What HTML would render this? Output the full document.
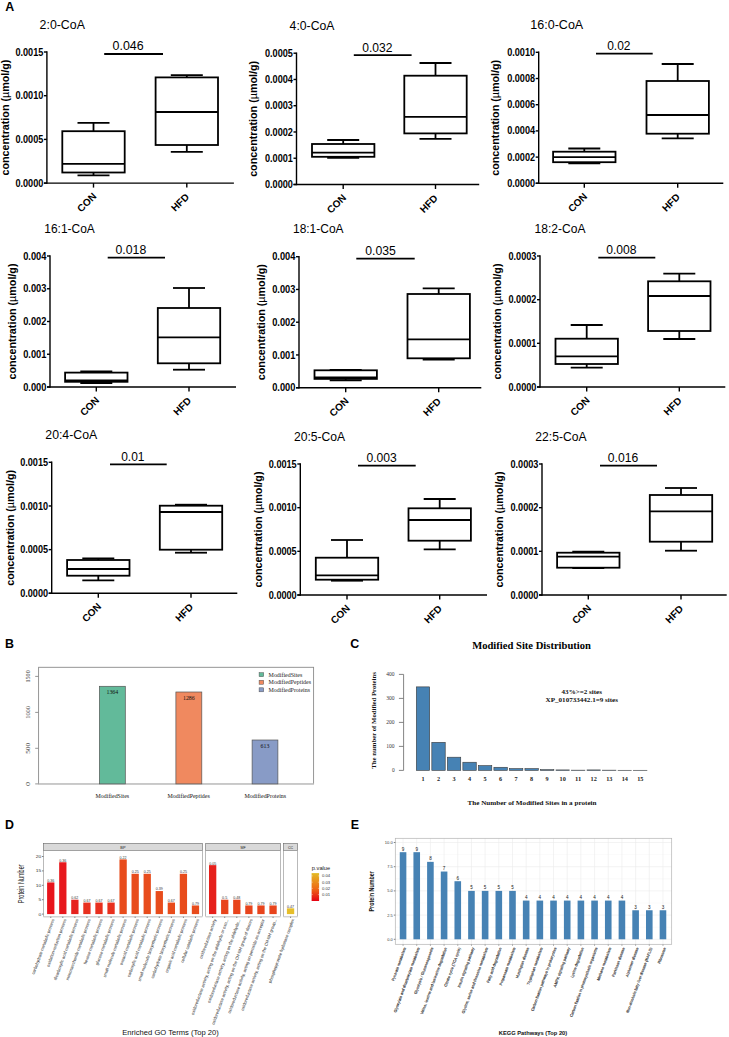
<!DOCTYPE html>
<html><head><meta charset="utf-8"><style>
html,body{margin:0;padding:0;background:#fff;overflow:hidden;}
svg{display:block;font-family:"Liberation Sans",sans-serif;}
</style></head><body>
<svg width="729" height="1037" viewBox="0 0 729 1037">
<rect width="729" height="1037" fill="#fff"/>
<text x="5.20" y="11.30" font-size="12.4" font-weight="bold">A</text>
<text x="5.00" y="647.90" font-size="12.4" font-weight="bold">B</text>
<text x="350.20" y="648.00" font-size="12.4" font-weight="bold">C</text>
<text x="5.00" y="829.40" font-size="12.4" font-weight="bold">D</text>
<text x="350.70" y="829.00" font-size="12.4" font-weight="bold">E</text>
<text x="39.60" y="28.60" font-size="13" textLength="45.30" lengthAdjust="spacingAndGlyphs">2:0-CoA</text>
<line x1="46.90" y1="51.30" x2="46.90" y2="183.80" stroke="#000" stroke-width="1.4" />
<line x1="43.90" y1="183.10" x2="233.90" y2="183.10" stroke="#000" stroke-width="1.4" />
<line x1="43.90" y1="183.10" x2="46.90" y2="183.10" stroke="#000" stroke-width="1.4" />
<text x="43.30" y="186.65" font-size="10" font-weight="bold" text-anchor="end" textLength="27.90" lengthAdjust="spacingAndGlyphs">0.0000</text>
<line x1="43.90" y1="139.40" x2="46.90" y2="139.40" stroke="#000" stroke-width="1.4" />
<text x="43.30" y="142.95" font-size="10" font-weight="bold" text-anchor="end" textLength="27.90" lengthAdjust="spacingAndGlyphs">0.0005</text>
<line x1="43.90" y1="95.70" x2="46.90" y2="95.70" stroke="#000" stroke-width="1.4" />
<text x="43.30" y="99.25" font-size="10" font-weight="bold" text-anchor="end" textLength="27.90" lengthAdjust="spacingAndGlyphs">0.0010</text>
<line x1="43.90" y1="52.00" x2="46.90" y2="52.00" stroke="#000" stroke-width="1.4" />
<text x="43.30" y="55.55" font-size="10" font-weight="bold" text-anchor="end" textLength="27.90" lengthAdjust="spacingAndGlyphs">0.0015</text>
<line x1="93.50" y1="183.10" x2="93.50" y2="187.60" stroke="#000" stroke-width="1.4" />
<text transform="translate(89.20,204.80) rotate(-45)" font-size="10" font-weight="bold" text-anchor="middle">CON</text>
<line x1="186.80" y1="183.10" x2="186.80" y2="187.60" stroke="#000" stroke-width="1.4" />
<text transform="translate(182.50,204.80) rotate(-45)" font-size="10" font-weight="bold" text-anchor="middle">HFD</text>
<line x1="93.50" y1="122.80" x2="93.50" y2="131.20" stroke="#000" stroke-width="1.8" />
<line x1="93.50" y1="172.50" x2="93.50" y2="175.40" stroke="#000" stroke-width="1.8" />
<line x1="77.50" y1="122.80" x2="109.50" y2="122.80" stroke="#000" stroke-width="1.8" />
<line x1="77.50" y1="175.40" x2="109.50" y2="175.40" stroke="#000" stroke-width="1.8" />
<rect x="62.30" y="131.20" width="62.40" height="41.30" fill="none" stroke="#000" stroke-width="1.8" />
<line x1="62.30" y1="163.80" x2="124.70" y2="163.80" stroke="#000" stroke-width="1.8" />
<line x1="186.80" y1="75.10" x2="186.80" y2="77.40" stroke="#000" stroke-width="1.8" />
<line x1="186.80" y1="145.00" x2="186.80" y2="151.90" stroke="#000" stroke-width="1.8" />
<line x1="170.80" y1="75.10" x2="202.80" y2="75.10" stroke="#000" stroke-width="1.8" />
<line x1="170.80" y1="151.90" x2="202.80" y2="151.90" stroke="#000" stroke-width="1.8" />
<rect x="155.60" y="77.40" width="62.40" height="67.60" fill="none" stroke="#000" stroke-width="1.8" />
<line x1="155.60" y1="112.00" x2="218.00" y2="112.00" stroke="#000" stroke-width="1.8" />
<line x1="104.20" y1="54.00" x2="163.00" y2="54.00" stroke="#000" stroke-width="1.8" />
<text x="112.60" y="50.20" font-size="12" textLength="31.10" lengthAdjust="spacingAndGlyphs">0.046</text>
<text transform="translate(9.00,117.55) rotate(-90)" font-size="10.8" font-weight="bold" text-anchor="middle" textLength="116" lengthAdjust="spacingAndGlyphs">concentration (<tspan font-weight="normal">µ</tspan>mol/g)</text>
<text x="289.60" y="30.20" font-size="13" textLength="44.80" lengthAdjust="spacingAndGlyphs">4:0-CoA</text>
<line x1="296.50" y1="52.50" x2="296.50" y2="185.20" stroke="#000" stroke-width="1.4" />
<line x1="293.50" y1="184.50" x2="479.20" y2="184.50" stroke="#000" stroke-width="1.4" />
<line x1="293.50" y1="184.50" x2="296.50" y2="184.50" stroke="#000" stroke-width="1.4" />
<text x="292.90" y="188.05" font-size="10" font-weight="bold" text-anchor="end" textLength="27.90" lengthAdjust="spacingAndGlyphs">0.0000</text>
<line x1="293.50" y1="158.24" x2="296.50" y2="158.24" stroke="#000" stroke-width="1.4" />
<text x="292.90" y="161.79" font-size="10" font-weight="bold" text-anchor="end" textLength="27.90" lengthAdjust="spacingAndGlyphs">0.0001</text>
<line x1="293.50" y1="131.98" x2="296.50" y2="131.98" stroke="#000" stroke-width="1.4" />
<text x="292.90" y="135.53" font-size="10" font-weight="bold" text-anchor="end" textLength="27.90" lengthAdjust="spacingAndGlyphs">0.0002</text>
<line x1="293.50" y1="105.72" x2="296.50" y2="105.72" stroke="#000" stroke-width="1.4" />
<text x="292.90" y="109.27" font-size="10" font-weight="bold" text-anchor="end" textLength="27.90" lengthAdjust="spacingAndGlyphs">0.0003</text>
<line x1="293.50" y1="79.46" x2="296.50" y2="79.46" stroke="#000" stroke-width="1.4" />
<text x="292.90" y="83.01" font-size="10" font-weight="bold" text-anchor="end" textLength="27.90" lengthAdjust="spacingAndGlyphs">0.0004</text>
<line x1="293.50" y1="53.20" x2="296.50" y2="53.20" stroke="#000" stroke-width="1.4" />
<text x="292.90" y="56.75" font-size="10" font-weight="bold" text-anchor="end" textLength="27.90" lengthAdjust="spacingAndGlyphs">0.0005</text>
<line x1="343.20" y1="184.50" x2="343.20" y2="189.00" stroke="#000" stroke-width="1.4" />
<text transform="translate(338.90,206.20) rotate(-45)" font-size="10" font-weight="bold" text-anchor="middle">CON</text>
<line x1="435.50" y1="184.50" x2="435.50" y2="189.00" stroke="#000" stroke-width="1.4" />
<text transform="translate(431.20,206.20) rotate(-45)" font-size="10" font-weight="bold" text-anchor="middle">HFD</text>
<line x1="343.20" y1="140.00" x2="343.20" y2="144.00" stroke="#000" stroke-width="1.8" />
<line x1="343.20" y1="156.80" x2="343.20" y2="157.90" stroke="#000" stroke-width="1.8" />
<line x1="327.20" y1="140.00" x2="359.20" y2="140.00" stroke="#000" stroke-width="1.8" />
<line x1="327.20" y1="157.90" x2="359.20" y2="157.90" stroke="#000" stroke-width="1.8" />
<rect x="312.00" y="144.00" width="62.40" height="12.80" fill="none" stroke="#000" stroke-width="1.8" />
<line x1="312.00" y1="152.70" x2="374.40" y2="152.70" stroke="#000" stroke-width="1.8" />
<line x1="435.50" y1="63.00" x2="435.50" y2="75.70" stroke="#000" stroke-width="1.8" />
<line x1="435.50" y1="133.40" x2="435.50" y2="138.80" stroke="#000" stroke-width="1.8" />
<line x1="419.50" y1="63.00" x2="451.50" y2="63.00" stroke="#000" stroke-width="1.8" />
<line x1="419.50" y1="138.80" x2="451.50" y2="138.80" stroke="#000" stroke-width="1.8" />
<rect x="404.30" y="75.70" width="62.40" height="57.70" fill="none" stroke="#000" stroke-width="1.8" />
<line x1="404.30" y1="116.80" x2="466.70" y2="116.80" stroke="#000" stroke-width="1.8" />
<line x1="353.80" y1="55.20" x2="411.60" y2="55.20" stroke="#000" stroke-width="1.8" />
<text x="362.20" y="51.50" font-size="12" textLength="30.20" lengthAdjust="spacingAndGlyphs">0.032</text>
<text transform="translate(257.40,118.85) rotate(-90)" font-size="10.8" font-weight="bold" text-anchor="middle" textLength="116" lengthAdjust="spacingAndGlyphs">concentration (<tspan font-weight="normal">µ</tspan>mol/g)</text>
<text x="530.30" y="29.40" font-size="13" textLength="52.90" lengthAdjust="spacingAndGlyphs">16:0-CoA</text>
<line x1="538.70" y1="51.60" x2="538.70" y2="184.00" stroke="#000" stroke-width="1.4" />
<line x1="535.70" y1="183.30" x2="723.30" y2="183.30" stroke="#000" stroke-width="1.4" />
<line x1="535.70" y1="183.30" x2="538.70" y2="183.30" stroke="#000" stroke-width="1.4" />
<text x="535.10" y="186.85" font-size="10" font-weight="bold" text-anchor="end" textLength="27.90" lengthAdjust="spacingAndGlyphs">0.0000</text>
<line x1="535.70" y1="157.10" x2="538.70" y2="157.10" stroke="#000" stroke-width="1.4" />
<text x="535.10" y="160.65" font-size="10" font-weight="bold" text-anchor="end" textLength="27.90" lengthAdjust="spacingAndGlyphs">0.0002</text>
<line x1="535.70" y1="130.90" x2="538.70" y2="130.90" stroke="#000" stroke-width="1.4" />
<text x="535.10" y="134.45" font-size="10" font-weight="bold" text-anchor="end" textLength="27.90" lengthAdjust="spacingAndGlyphs">0.0004</text>
<line x1="535.70" y1="104.70" x2="538.70" y2="104.70" stroke="#000" stroke-width="1.4" />
<text x="535.10" y="108.25" font-size="10" font-weight="bold" text-anchor="end" textLength="27.90" lengthAdjust="spacingAndGlyphs">0.0006</text>
<line x1="535.70" y1="78.50" x2="538.70" y2="78.50" stroke="#000" stroke-width="1.4" />
<text x="535.10" y="82.05" font-size="10" font-weight="bold" text-anchor="end" textLength="27.90" lengthAdjust="spacingAndGlyphs">0.0008</text>
<line x1="535.70" y1="52.30" x2="538.70" y2="52.30" stroke="#000" stroke-width="1.4" />
<text x="535.10" y="55.85" font-size="10" font-weight="bold" text-anchor="end" textLength="27.90" lengthAdjust="spacingAndGlyphs">0.0010</text>
<line x1="584.30" y1="183.30" x2="584.30" y2="187.80" stroke="#000" stroke-width="1.4" />
<text transform="translate(580.00,205.00) rotate(-45)" font-size="10" font-weight="bold" text-anchor="middle">CON</text>
<line x1="677.70" y1="183.30" x2="677.70" y2="187.80" stroke="#000" stroke-width="1.4" />
<text transform="translate(673.40,205.00) rotate(-45)" font-size="10" font-weight="bold" text-anchor="middle">HFD</text>
<line x1="584.30" y1="148.50" x2="584.30" y2="151.70" stroke="#000" stroke-width="1.8" />
<line x1="584.30" y1="162.20" x2="584.30" y2="163.40" stroke="#000" stroke-width="1.8" />
<line x1="568.30" y1="148.50" x2="600.30" y2="148.50" stroke="#000" stroke-width="1.8" />
<line x1="568.30" y1="163.40" x2="600.30" y2="163.40" stroke="#000" stroke-width="1.8" />
<rect x="553.10" y="151.70" width="62.40" height="10.50" fill="none" stroke="#000" stroke-width="1.8" />
<line x1="553.10" y1="157.20" x2="615.50" y2="157.20" stroke="#000" stroke-width="1.8" />
<line x1="677.70" y1="64.00" x2="677.70" y2="81.00" stroke="#000" stroke-width="1.8" />
<line x1="677.70" y1="133.70" x2="677.70" y2="138.30" stroke="#000" stroke-width="1.8" />
<line x1="661.70" y1="64.00" x2="693.70" y2="64.00" stroke="#000" stroke-width="1.8" />
<line x1="661.70" y1="138.30" x2="693.70" y2="138.30" stroke="#000" stroke-width="1.8" />
<rect x="646.50" y="81.00" width="62.40" height="52.70" fill="none" stroke="#000" stroke-width="1.8" />
<line x1="646.50" y1="115.00" x2="708.90" y2="115.00" stroke="#000" stroke-width="1.8" />
<line x1="596.00" y1="53.70" x2="652.70" y2="53.70" stroke="#000" stroke-width="1.8" />
<text x="607.20" y="50.00" font-size="12" textLength="23.30" lengthAdjust="spacingAndGlyphs">0.02</text>
<text transform="translate(499.10,117.80) rotate(-90)" font-size="10.8" font-weight="bold" text-anchor="middle" textLength="116" lengthAdjust="spacingAndGlyphs">concentration (<tspan font-weight="normal">µ</tspan>mol/g)</text>
<text x="44.30" y="232.80" font-size="13" textLength="50.50" lengthAdjust="spacingAndGlyphs">16:1-CoA</text>
<line x1="50.00" y1="255.30" x2="50.00" y2="387.70" stroke="#000" stroke-width="1.4" />
<line x1="47.00" y1="387.00" x2="236.00" y2="387.00" stroke="#000" stroke-width="1.4" />
<line x1="47.00" y1="387.00" x2="50.00" y2="387.00" stroke="#000" stroke-width="1.4" />
<text x="46.40" y="390.55" font-size="10" font-weight="bold" text-anchor="end" textLength="23.20" lengthAdjust="spacingAndGlyphs">0.000</text>
<line x1="47.00" y1="354.25" x2="50.00" y2="354.25" stroke="#000" stroke-width="1.4" />
<text x="46.40" y="357.80" font-size="10" font-weight="bold" text-anchor="end" textLength="23.20" lengthAdjust="spacingAndGlyphs">0.001</text>
<line x1="47.00" y1="321.50" x2="50.00" y2="321.50" stroke="#000" stroke-width="1.4" />
<text x="46.40" y="325.05" font-size="10" font-weight="bold" text-anchor="end" textLength="23.20" lengthAdjust="spacingAndGlyphs">0.002</text>
<line x1="47.00" y1="288.75" x2="50.00" y2="288.75" stroke="#000" stroke-width="1.4" />
<text x="46.40" y="292.30" font-size="10" font-weight="bold" text-anchor="end" textLength="23.20" lengthAdjust="spacingAndGlyphs">0.003</text>
<line x1="47.00" y1="256.00" x2="50.00" y2="256.00" stroke="#000" stroke-width="1.4" />
<text x="46.40" y="259.55" font-size="10" font-weight="bold" text-anchor="end" textLength="23.20" lengthAdjust="spacingAndGlyphs">0.004</text>
<line x1="96.30" y1="387.00" x2="96.30" y2="391.50" stroke="#000" stroke-width="1.4" />
<text transform="translate(92.00,408.70) rotate(-45)" font-size="10" font-weight="bold" text-anchor="middle">CON</text>
<line x1="189.00" y1="387.00" x2="189.00" y2="391.50" stroke="#000" stroke-width="1.4" />
<text transform="translate(184.70,408.70) rotate(-45)" font-size="10" font-weight="bold" text-anchor="middle">HFD</text>
<line x1="96.30" y1="371.30" x2="96.30" y2="372.60" stroke="#000" stroke-width="1.8" />
<line x1="96.30" y1="381.80" x2="96.30" y2="383.00" stroke="#000" stroke-width="1.8" />
<line x1="80.30" y1="371.30" x2="112.30" y2="371.30" stroke="#000" stroke-width="1.8" />
<line x1="80.30" y1="383.00" x2="112.30" y2="383.00" stroke="#000" stroke-width="1.8" />
<rect x="65.10" y="372.60" width="62.40" height="9.20" fill="none" stroke="#000" stroke-width="1.8" />
<line x1="65.10" y1="380.30" x2="127.50" y2="380.30" stroke="#000" stroke-width="1.8" />
<line x1="189.00" y1="288.00" x2="189.00" y2="308.00" stroke="#000" stroke-width="1.8" />
<line x1="189.00" y1="363.30" x2="189.00" y2="369.70" stroke="#000" stroke-width="1.8" />
<line x1="173.00" y1="288.00" x2="205.00" y2="288.00" stroke="#000" stroke-width="1.8" />
<line x1="173.00" y1="369.70" x2="205.00" y2="369.70" stroke="#000" stroke-width="1.8" />
<rect x="157.80" y="308.00" width="62.40" height="55.30" fill="none" stroke="#000" stroke-width="1.8" />
<line x1="157.80" y1="337.30" x2="220.20" y2="337.30" stroke="#000" stroke-width="1.8" />
<line x1="107.70" y1="257.70" x2="165.00" y2="257.70" stroke="#000" stroke-width="1.8" />
<text x="115.50" y="254.00" font-size="12" textLength="30.70" lengthAdjust="spacingAndGlyphs">0.018</text>
<text transform="translate(15.80,321.50) rotate(-90)" font-size="10.8" font-weight="bold" text-anchor="middle" textLength="116" lengthAdjust="spacingAndGlyphs">concentration (<tspan font-weight="normal">µ</tspan>mol/g)</text>
<text x="293.00" y="233.40" font-size="13" textLength="50.50" lengthAdjust="spacingAndGlyphs">18:1-CoA</text>
<line x1="299.00" y1="256.00" x2="299.00" y2="388.40" stroke="#000" stroke-width="1.4" />
<line x1="296.00" y1="387.70" x2="481.30" y2="387.70" stroke="#000" stroke-width="1.4" />
<line x1="296.00" y1="387.70" x2="299.00" y2="387.70" stroke="#000" stroke-width="1.4" />
<text x="295.40" y="391.25" font-size="10" font-weight="bold" text-anchor="end" textLength="23.20" lengthAdjust="spacingAndGlyphs">0.000</text>
<line x1="296.00" y1="354.95" x2="299.00" y2="354.95" stroke="#000" stroke-width="1.4" />
<text x="295.40" y="358.50" font-size="10" font-weight="bold" text-anchor="end" textLength="23.20" lengthAdjust="spacingAndGlyphs">0.001</text>
<line x1="296.00" y1="322.20" x2="299.00" y2="322.20" stroke="#000" stroke-width="1.4" />
<text x="295.40" y="325.75" font-size="10" font-weight="bold" text-anchor="end" textLength="23.20" lengthAdjust="spacingAndGlyphs">0.002</text>
<line x1="296.00" y1="289.45" x2="299.00" y2="289.45" stroke="#000" stroke-width="1.4" />
<text x="295.40" y="293.00" font-size="10" font-weight="bold" text-anchor="end" textLength="23.20" lengthAdjust="spacingAndGlyphs">0.003</text>
<line x1="296.00" y1="256.70" x2="299.00" y2="256.70" stroke="#000" stroke-width="1.4" />
<text x="295.40" y="260.25" font-size="10" font-weight="bold" text-anchor="end" textLength="23.20" lengthAdjust="spacingAndGlyphs">0.004</text>
<line x1="345.70" y1="387.70" x2="345.70" y2="392.20" stroke="#000" stroke-width="1.4" />
<text transform="translate(341.40,409.40) rotate(-45)" font-size="10" font-weight="bold" text-anchor="middle">CON</text>
<line x1="438.70" y1="387.70" x2="438.70" y2="392.20" stroke="#000" stroke-width="1.4" />
<text transform="translate(434.40,409.40) rotate(-45)" font-size="10" font-weight="bold" text-anchor="middle">HFD</text>
<line x1="345.70" y1="370.00" x2="345.70" y2="370.30" stroke="#000" stroke-width="1.8" />
<line x1="345.70" y1="378.90" x2="345.70" y2="380.30" stroke="#000" stroke-width="1.8" />
<line x1="329.70" y1="370.00" x2="361.70" y2="370.00" stroke="#000" stroke-width="1.8" />
<line x1="329.70" y1="380.30" x2="361.70" y2="380.30" stroke="#000" stroke-width="1.8" />
<rect x="314.50" y="370.30" width="62.40" height="8.60" fill="none" stroke="#000" stroke-width="1.8" />
<line x1="314.50" y1="377.40" x2="376.90" y2="377.40" stroke="#000" stroke-width="1.8" />
<line x1="438.70" y1="288.30" x2="438.70" y2="294.00" stroke="#000" stroke-width="1.8" />
<line x1="438.70" y1="358.30" x2="438.70" y2="359.70" stroke="#000" stroke-width="1.8" />
<line x1="422.70" y1="288.30" x2="454.70" y2="288.30" stroke="#000" stroke-width="1.8" />
<line x1="422.70" y1="359.70" x2="454.70" y2="359.70" stroke="#000" stroke-width="1.8" />
<rect x="407.50" y="294.00" width="62.40" height="64.30" fill="none" stroke="#000" stroke-width="1.8" />
<line x1="407.50" y1="339.30" x2="469.90" y2="339.30" stroke="#000" stroke-width="1.8" />
<line x1="356.30" y1="258.70" x2="414.70" y2="258.70" stroke="#000" stroke-width="1.8" />
<text x="365.20" y="255.00" font-size="12" textLength="30.60" lengthAdjust="spacingAndGlyphs">0.035</text>
<text transform="translate(265.10,322.20) rotate(-90)" font-size="10.8" font-weight="bold" text-anchor="middle" textLength="116" lengthAdjust="spacingAndGlyphs">concentration (<tspan font-weight="normal">µ</tspan>mol/g)</text>
<text x="534.60" y="233.40" font-size="13" textLength="50.90" lengthAdjust="spacingAndGlyphs">18:2-CoA</text>
<line x1="540.00" y1="255.30" x2="540.00" y2="387.70" stroke="#000" stroke-width="1.4" />
<line x1="537.00" y1="387.00" x2="725.30" y2="387.00" stroke="#000" stroke-width="1.4" />
<line x1="537.00" y1="387.00" x2="540.00" y2="387.00" stroke="#000" stroke-width="1.4" />
<text x="536.40" y="390.55" font-size="10" font-weight="bold" text-anchor="end" textLength="27.90" lengthAdjust="spacingAndGlyphs">0.0000</text>
<line x1="537.00" y1="343.33" x2="540.00" y2="343.33" stroke="#000" stroke-width="1.4" />
<text x="536.40" y="346.88" font-size="10" font-weight="bold" text-anchor="end" textLength="27.90" lengthAdjust="spacingAndGlyphs">0.0001</text>
<line x1="537.00" y1="299.67" x2="540.00" y2="299.67" stroke="#000" stroke-width="1.4" />
<text x="536.40" y="303.22" font-size="10" font-weight="bold" text-anchor="end" textLength="27.90" lengthAdjust="spacingAndGlyphs">0.0002</text>
<line x1="537.00" y1="256.00" x2="540.00" y2="256.00" stroke="#000" stroke-width="1.4" />
<text x="536.40" y="259.55" font-size="10" font-weight="bold" text-anchor="end" textLength="27.90" lengthAdjust="spacingAndGlyphs">0.0003</text>
<line x1="586.70" y1="387.00" x2="586.70" y2="391.50" stroke="#000" stroke-width="1.4" />
<text transform="translate(582.40,408.70) rotate(-45)" font-size="10" font-weight="bold" text-anchor="middle">CON</text>
<line x1="679.30" y1="387.00" x2="679.30" y2="391.50" stroke="#000" stroke-width="1.4" />
<text transform="translate(675.00,408.70) rotate(-45)" font-size="10" font-weight="bold" text-anchor="middle">HFD</text>
<line x1="586.70" y1="325.00" x2="586.70" y2="338.70" stroke="#000" stroke-width="1.8" />
<line x1="586.70" y1="364.00" x2="586.70" y2="367.70" stroke="#000" stroke-width="1.8" />
<line x1="570.70" y1="325.00" x2="602.70" y2="325.00" stroke="#000" stroke-width="1.8" />
<line x1="570.70" y1="367.70" x2="602.70" y2="367.70" stroke="#000" stroke-width="1.8" />
<rect x="555.50" y="338.70" width="62.40" height="25.30" fill="none" stroke="#000" stroke-width="1.8" />
<line x1="555.50" y1="356.30" x2="617.90" y2="356.30" stroke="#000" stroke-width="1.8" />
<line x1="679.30" y1="273.70" x2="679.30" y2="281.30" stroke="#000" stroke-width="1.8" />
<line x1="679.30" y1="331.00" x2="679.30" y2="339.00" stroke="#000" stroke-width="1.8" />
<line x1="663.30" y1="273.70" x2="695.30" y2="273.70" stroke="#000" stroke-width="1.8" />
<line x1="663.30" y1="339.00" x2="695.30" y2="339.00" stroke="#000" stroke-width="1.8" />
<rect x="648.10" y="281.30" width="62.40" height="49.70" fill="none" stroke="#000" stroke-width="1.8" />
<line x1="648.10" y1="296.00" x2="710.50" y2="296.00" stroke="#000" stroke-width="1.8" />
<line x1="598.30" y1="257.70" x2="655.30" y2="257.70" stroke="#000" stroke-width="1.8" />
<text x="606.20" y="254.00" font-size="12" textLength="30.30" lengthAdjust="spacingAndGlyphs">0.008</text>
<text transform="translate(501.10,321.50) rotate(-90)" font-size="10.8" font-weight="bold" text-anchor="middle" textLength="116" lengthAdjust="spacingAndGlyphs">concentration (<tspan font-weight="normal">µ</tspan>mol/g)</text>
<text x="45.30" y="439.40" font-size="13" textLength="51.90" lengthAdjust="spacingAndGlyphs">20:4-CoA</text>
<line x1="51.70" y1="461.60" x2="51.70" y2="594.00" stroke="#000" stroke-width="1.4" />
<line x1="48.70" y1="593.30" x2="237.30" y2="593.30" stroke="#000" stroke-width="1.4" />
<line x1="48.70" y1="593.30" x2="51.70" y2="593.30" stroke="#000" stroke-width="1.4" />
<text x="48.10" y="596.85" font-size="10" font-weight="bold" text-anchor="end" textLength="27.90" lengthAdjust="spacingAndGlyphs">0.0000</text>
<line x1="48.70" y1="549.63" x2="51.70" y2="549.63" stroke="#000" stroke-width="1.4" />
<text x="48.10" y="553.18" font-size="10" font-weight="bold" text-anchor="end" textLength="27.90" lengthAdjust="spacingAndGlyphs">0.0005</text>
<line x1="48.70" y1="505.97" x2="51.70" y2="505.97" stroke="#000" stroke-width="1.4" />
<text x="48.10" y="509.52" font-size="10" font-weight="bold" text-anchor="end" textLength="27.90" lengthAdjust="spacingAndGlyphs">0.0010</text>
<line x1="48.70" y1="462.30" x2="51.70" y2="462.30" stroke="#000" stroke-width="1.4" />
<text x="48.10" y="465.85" font-size="10" font-weight="bold" text-anchor="end" textLength="27.90" lengthAdjust="spacingAndGlyphs">0.0015</text>
<line x1="98.30" y1="593.30" x2="98.30" y2="597.80" stroke="#000" stroke-width="1.4" />
<text transform="translate(94.00,615.00) rotate(-45)" font-size="10" font-weight="bold" text-anchor="middle">CON</text>
<line x1="191.00" y1="593.30" x2="191.00" y2="597.80" stroke="#000" stroke-width="1.4" />
<text transform="translate(186.70,615.00) rotate(-45)" font-size="10" font-weight="bold" text-anchor="middle">HFD</text>
<line x1="98.30" y1="558.30" x2="98.30" y2="560.00" stroke="#000" stroke-width="1.8" />
<line x1="98.30" y1="575.70" x2="98.30" y2="580.30" stroke="#000" stroke-width="1.8" />
<line x1="82.30" y1="558.30" x2="114.30" y2="558.30" stroke="#000" stroke-width="1.8" />
<line x1="82.30" y1="580.30" x2="114.30" y2="580.30" stroke="#000" stroke-width="1.8" />
<rect x="67.10" y="560.00" width="62.40" height="15.70" fill="none" stroke="#000" stroke-width="1.8" />
<line x1="67.10" y1="569.00" x2="129.50" y2="569.00" stroke="#000" stroke-width="1.8" />
<line x1="191.00" y1="504.70" x2="191.00" y2="505.70" stroke="#000" stroke-width="1.8" />
<line x1="191.00" y1="549.70" x2="191.00" y2="552.70" stroke="#000" stroke-width="1.8" />
<line x1="175.00" y1="504.70" x2="207.00" y2="504.70" stroke="#000" stroke-width="1.8" />
<line x1="175.00" y1="552.70" x2="207.00" y2="552.70" stroke="#000" stroke-width="1.8" />
<rect x="159.80" y="505.70" width="62.40" height="44.00" fill="none" stroke="#000" stroke-width="1.8" />
<line x1="159.80" y1="512.00" x2="222.20" y2="512.00" stroke="#000" stroke-width="1.8" />
<line x1="110.00" y1="464.30" x2="166.70" y2="464.30" stroke="#000" stroke-width="1.8" />
<text x="121.20" y="461.00" font-size="12" textLength="23.30" lengthAdjust="spacingAndGlyphs">0.01</text>
<text transform="translate(13.80,527.80) rotate(-90)" font-size="10.8" font-weight="bold" text-anchor="middle" textLength="116" lengthAdjust="spacingAndGlyphs">concentration (<tspan font-weight="normal">µ</tspan>mol/g)</text>
<text x="294.00" y="441.10" font-size="13" textLength="51.20" lengthAdjust="spacingAndGlyphs">20:5-CoA</text>
<line x1="300.30" y1="463.30" x2="300.30" y2="595.70" stroke="#000" stroke-width="1.4" />
<line x1="297.30" y1="595.00" x2="487.00" y2="595.00" stroke="#000" stroke-width="1.4" />
<line x1="297.30" y1="595.00" x2="300.30" y2="595.00" stroke="#000" stroke-width="1.4" />
<text x="296.70" y="598.55" font-size="10" font-weight="bold" text-anchor="end" textLength="27.90" lengthAdjust="spacingAndGlyphs">0.0000</text>
<line x1="297.30" y1="551.33" x2="300.30" y2="551.33" stroke="#000" stroke-width="1.4" />
<text x="296.70" y="554.88" font-size="10" font-weight="bold" text-anchor="end" textLength="27.90" lengthAdjust="spacingAndGlyphs">0.0005</text>
<line x1="297.30" y1="507.67" x2="300.30" y2="507.67" stroke="#000" stroke-width="1.4" />
<text x="296.70" y="511.22" font-size="10" font-weight="bold" text-anchor="end" textLength="27.90" lengthAdjust="spacingAndGlyphs">0.0010</text>
<line x1="297.30" y1="464.00" x2="300.30" y2="464.00" stroke="#000" stroke-width="1.4" />
<text x="296.70" y="467.55" font-size="10" font-weight="bold" text-anchor="end" textLength="27.90" lengthAdjust="spacingAndGlyphs">0.0015</text>
<line x1="347.00" y1="595.00" x2="347.00" y2="599.50" stroke="#000" stroke-width="1.4" />
<text transform="translate(342.70,616.70) rotate(-45)" font-size="10" font-weight="bold" text-anchor="middle">CON</text>
<line x1="439.70" y1="595.00" x2="439.70" y2="599.50" stroke="#000" stroke-width="1.4" />
<text transform="translate(435.40,616.70) rotate(-45)" font-size="10" font-weight="bold" text-anchor="middle">HFD</text>
<line x1="347.00" y1="540.00" x2="347.00" y2="557.70" stroke="#000" stroke-width="1.8" />
<line x1="347.00" y1="579.70" x2="347.00" y2="580.70" stroke="#000" stroke-width="1.8" />
<line x1="331.00" y1="540.00" x2="363.00" y2="540.00" stroke="#000" stroke-width="1.8" />
<line x1="331.00" y1="580.70" x2="363.00" y2="580.70" stroke="#000" stroke-width="1.8" />
<rect x="315.80" y="557.70" width="62.40" height="22.00" fill="none" stroke="#000" stroke-width="1.8" />
<line x1="315.80" y1="575.30" x2="378.20" y2="575.30" stroke="#000" stroke-width="1.8" />
<line x1="439.70" y1="499.00" x2="439.70" y2="508.30" stroke="#000" stroke-width="1.8" />
<line x1="439.70" y1="540.70" x2="439.70" y2="549.30" stroke="#000" stroke-width="1.8" />
<line x1="423.70" y1="499.00" x2="455.70" y2="499.00" stroke="#000" stroke-width="1.8" />
<line x1="423.70" y1="549.30" x2="455.70" y2="549.30" stroke="#000" stroke-width="1.8" />
<rect x="408.50" y="508.30" width="62.40" height="32.40" fill="none" stroke="#000" stroke-width="1.8" />
<line x1="408.50" y1="520.00" x2="470.90" y2="520.00" stroke="#000" stroke-width="1.8" />
<line x1="358.00" y1="465.70" x2="415.70" y2="465.70" stroke="#000" stroke-width="1.8" />
<text x="366.50" y="462.30" font-size="12" textLength="30.30" lengthAdjust="spacingAndGlyphs">0.003</text>
<text transform="translate(261.50,529.50) rotate(-90)" font-size="10.8" font-weight="bold" text-anchor="middle" textLength="116" lengthAdjust="spacingAndGlyphs">concentration (<tspan font-weight="normal">µ</tspan>mol/g)</text>
<text x="535.30" y="441.10" font-size="13" textLength="51.20" lengthAdjust="spacingAndGlyphs">22:5-CoA</text>
<line x1="542.00" y1="463.30" x2="542.00" y2="595.70" stroke="#000" stroke-width="1.4" />
<line x1="539.00" y1="595.00" x2="726.70" y2="595.00" stroke="#000" stroke-width="1.4" />
<line x1="539.00" y1="595.00" x2="542.00" y2="595.00" stroke="#000" stroke-width="1.4" />
<text x="538.40" y="598.55" font-size="10" font-weight="bold" text-anchor="end" textLength="27.90" lengthAdjust="spacingAndGlyphs">0.0000</text>
<line x1="539.00" y1="551.33" x2="542.00" y2="551.33" stroke="#000" stroke-width="1.4" />
<text x="538.40" y="554.88" font-size="10" font-weight="bold" text-anchor="end" textLength="27.90" lengthAdjust="spacingAndGlyphs">0.0001</text>
<line x1="539.00" y1="507.67" x2="542.00" y2="507.67" stroke="#000" stroke-width="1.4" />
<text x="538.40" y="511.22" font-size="10" font-weight="bold" text-anchor="end" textLength="27.90" lengthAdjust="spacingAndGlyphs">0.0002</text>
<line x1="539.00" y1="464.00" x2="542.00" y2="464.00" stroke="#000" stroke-width="1.4" />
<text x="538.40" y="467.55" font-size="10" font-weight="bold" text-anchor="end" textLength="27.90" lengthAdjust="spacingAndGlyphs">0.0003</text>
<line x1="588.30" y1="595.00" x2="588.30" y2="599.50" stroke="#000" stroke-width="1.4" />
<text transform="translate(584.00,616.70) rotate(-45)" font-size="10" font-weight="bold" text-anchor="middle">CON</text>
<line x1="681.00" y1="595.00" x2="681.00" y2="599.50" stroke="#000" stroke-width="1.4" />
<text transform="translate(676.70,616.70) rotate(-45)" font-size="10" font-weight="bold" text-anchor="middle">HFD</text>
<line x1="588.30" y1="551.70" x2="588.30" y2="552.70" stroke="#000" stroke-width="1.8" />
<line x1="588.30" y1="567.70" x2="588.30" y2="568.00" stroke="#000" stroke-width="1.8" />
<line x1="572.30" y1="551.70" x2="604.30" y2="551.70" stroke="#000" stroke-width="1.8" />
<line x1="572.30" y1="568.00" x2="604.30" y2="568.00" stroke="#000" stroke-width="1.8" />
<rect x="557.10" y="552.70" width="62.40" height="15.00" fill="none" stroke="#000" stroke-width="1.8" />
<line x1="557.10" y1="556.70" x2="619.50" y2="556.70" stroke="#000" stroke-width="1.8" />
<line x1="681.00" y1="488.00" x2="681.00" y2="495.00" stroke="#000" stroke-width="1.8" />
<line x1="681.00" y1="541.70" x2="681.00" y2="550.70" stroke="#000" stroke-width="1.8" />
<line x1="665.00" y1="488.00" x2="697.00" y2="488.00" stroke="#000" stroke-width="1.8" />
<line x1="665.00" y1="550.70" x2="697.00" y2="550.70" stroke="#000" stroke-width="1.8" />
<rect x="649.80" y="495.00" width="62.40" height="46.70" fill="none" stroke="#000" stroke-width="1.8" />
<line x1="649.80" y1="511.30" x2="712.20" y2="511.30" stroke="#000" stroke-width="1.8" />
<line x1="600.00" y1="465.70" x2="657.00" y2="465.70" stroke="#000" stroke-width="1.8" />
<text x="607.80" y="462.30" font-size="12" textLength="30.40" lengthAdjust="spacingAndGlyphs">0.016</text>
<text transform="translate(502.50,529.50) rotate(-90)" font-size="10.8" font-weight="bold" text-anchor="middle" textLength="116" lengthAdjust="spacingAndGlyphs">concentration (<tspan font-weight="normal">µ</tspan>mol/g)</text>
<rect x="38.60" y="667.30" width="275.00" height="116.60" fill="none" stroke="#8a8a8a" stroke-width="0.9" />
<line x1="38.60" y1="783.90" x2="313.60" y2="783.90" stroke="#c8c8c8" stroke-width="1.6" />
<line x1="35.20" y1="783.90" x2="38.60" y2="783.90" stroke="#8a8a8a" stroke-width="0.9" />
<text transform="translate(29.8,783.90) rotate(-90)" font-family="Liberation Serif" font-size="5.4" fill="#444" text-anchor="middle" textLength="4.2" lengthAdjust="spacingAndGlyphs">0</text>
<line x1="35.20" y1="748.30" x2="38.60" y2="748.30" stroke="#8a8a8a" stroke-width="0.9" />
<text transform="translate(29.8,748.30) rotate(-90)" font-family="Liberation Serif" font-size="5.4" fill="#444" text-anchor="middle" textLength="11.0" lengthAdjust="spacingAndGlyphs">500</text>
<line x1="35.20" y1="712.40" x2="38.60" y2="712.40" stroke="#8a8a8a" stroke-width="0.9" />
<text transform="translate(29.8,712.40) rotate(-90)" font-family="Liberation Serif" font-size="5.4" fill="#444" text-anchor="middle" textLength="12.9" lengthAdjust="spacingAndGlyphs">1000</text>
<line x1="35.20" y1="676.40" x2="38.60" y2="676.40" stroke="#8a8a8a" stroke-width="0.9" />
<text transform="translate(29.8,676.40) rotate(-90)" font-family="Liberation Serif" font-size="5.4" fill="#444" text-anchor="middle" textLength="12.3" lengthAdjust="spacingAndGlyphs">1500</text>
<rect x="99.40" y="686.30" width="25.90" height="97.60" fill="#62BA9A" stroke="#555" stroke-width="0.7" />
<text x="112.35" y="694.20" font-size="6.6" font-family="Liberation Serif" text-anchor="middle" fill="#111" textLength="11.80" lengthAdjust="spacingAndGlyphs">1364</text>
<rect x="175.90" y="692.00" width="25.90" height="91.90" fill="#F0895F" stroke="#555" stroke-width="0.7" />
<text x="188.85" y="699.90" font-size="6.6" font-family="Liberation Serif" text-anchor="middle" fill="#111" textLength="11.80" lengthAdjust="spacingAndGlyphs">1286</text>
<rect x="252.10" y="740.00" width="25.80" height="43.90" fill="#889BC6" stroke="#555" stroke-width="0.7" />
<text x="265.00" y="747.90" font-size="6.6" font-family="Liberation Serif" text-anchor="middle" fill="#111" textLength="8.85" lengthAdjust="spacingAndGlyphs">613</text>
<text x="95.60" y="797.70" font-size="6.8" font-family="Liberation Serif" fill="#111" textLength="33.50" lengthAdjust="spacingAndGlyphs">ModifiedSites</text>
<text x="167.60" y="797.70" font-size="6.8" font-family="Liberation Serif" fill="#111" textLength="42.20" lengthAdjust="spacingAndGlyphs">ModifiedPeptides</text>
<text x="244.50" y="797.70" font-size="6.8" font-family="Liberation Serif" fill="#111" textLength="41.60" lengthAdjust="spacingAndGlyphs">ModifiedProteins</text>
<rect x="259.10" y="672.70" width="4.60" height="4.00" fill="#62BA9A" stroke="#555" stroke-width="0.5" />
<text x="268.60" y="676.80" font-size="6.3" font-family="Liberation Serif" fill="#222" textLength="33.70" lengthAdjust="spacingAndGlyphs">ModifiedSites</text>
<rect x="259.10" y="680.25" width="4.60" height="4.00" fill="#F0895F" stroke="#555" stroke-width="0.5" />
<text x="268.60" y="684.35" font-size="6.3" font-family="Liberation Serif" fill="#222" textLength="42.40" lengthAdjust="spacingAndGlyphs">ModifiedPeptides</text>
<rect x="259.10" y="687.80" width="4.60" height="4.00" fill="#889BC6" stroke="#555" stroke-width="0.5" />
<text x="268.60" y="691.90" font-size="6.3" font-family="Liberation Serif" fill="#222" textLength="41.40" lengthAdjust="spacingAndGlyphs">ModifiedProteins</text>
<text x="472.20" y="649.30" font-size="10.4" font-family="Liberation Serif" font-weight="bold" textLength="118.80" lengthAdjust="spacingAndGlyphs">Modified Site Distribution</text>
<line x1="403.60" y1="674.40" x2="403.60" y2="770.40" stroke="#777" stroke-width="0.9" />
<line x1="398.90" y1="770.40" x2="403.60" y2="770.40" stroke="#777" stroke-width="0.9" />
<text x="394.60" y="772.20" font-size="5.2" font-family="Liberation Serif" text-anchor="end" fill="#333" textLength="2.70" lengthAdjust="spacingAndGlyphs">0</text>
<line x1="398.90" y1="746.40" x2="403.60" y2="746.40" stroke="#777" stroke-width="0.9" />
<text x="394.60" y="748.20" font-size="5.2" font-family="Liberation Serif" text-anchor="end" fill="#333" textLength="8.30" lengthAdjust="spacingAndGlyphs">100</text>
<line x1="398.90" y1="722.40" x2="403.60" y2="722.40" stroke="#777" stroke-width="0.9" />
<text x="394.60" y="724.20" font-size="5.2" font-family="Liberation Serif" text-anchor="end" fill="#333" textLength="8.30" lengthAdjust="spacingAndGlyphs">200</text>
<line x1="398.90" y1="698.40" x2="403.60" y2="698.40" stroke="#777" stroke-width="0.9" />
<text x="394.60" y="700.20" font-size="5.2" font-family="Liberation Serif" text-anchor="end" fill="#333" textLength="8.30" lengthAdjust="spacingAndGlyphs">300</text>
<line x1="398.90" y1="674.40" x2="403.60" y2="674.40" stroke="#777" stroke-width="0.9" />
<text x="394.60" y="676.20" font-size="5.2" font-family="Liberation Serif" text-anchor="end" fill="#333" textLength="8.30" lengthAdjust="spacingAndGlyphs">400</text>
<rect x="416.30" y="686.88" width="13.40" height="83.52" fill="#4682B4" stroke="#3a3a3a" stroke-width="0.6" />
<text x="423.00" y="781.30" font-size="6.4" font-family="Liberation Serif" font-weight="bold" text-anchor="middle" fill="#222" textLength="3.10" lengthAdjust="spacingAndGlyphs">1</text>
<rect x="431.82" y="742.32" width="13.40" height="28.08" fill="#4682B4" stroke="#3a3a3a" stroke-width="0.6" />
<text x="438.52" y="781.30" font-size="6.4" font-family="Liberation Serif" font-weight="bold" text-anchor="middle" fill="#222" textLength="3.10" lengthAdjust="spacingAndGlyphs">2</text>
<rect x="447.34" y="757.20" width="13.40" height="13.20" fill="#4682B4" stroke="#3a3a3a" stroke-width="0.6" />
<text x="454.04" y="781.30" font-size="6.4" font-family="Liberation Serif" font-weight="bold" text-anchor="middle" fill="#222" textLength="3.10" lengthAdjust="spacingAndGlyphs">3</text>
<rect x="462.86" y="762.24" width="13.40" height="8.16" fill="#4682B4" stroke="#3a3a3a" stroke-width="0.6" />
<text x="469.56" y="781.30" font-size="6.4" font-family="Liberation Serif" font-weight="bold" text-anchor="middle" fill="#222" textLength="3.10" lengthAdjust="spacingAndGlyphs">4</text>
<rect x="478.38" y="765.60" width="13.40" height="4.80" fill="#4682B4" stroke="#3a3a3a" stroke-width="0.6" />
<text x="485.08" y="781.30" font-size="6.4" font-family="Liberation Serif" font-weight="bold" text-anchor="middle" fill="#222" textLength="3.10" lengthAdjust="spacingAndGlyphs">5</text>
<rect x="493.90" y="767.28" width="13.40" height="3.12" fill="#4682B4" stroke="#3a3a3a" stroke-width="0.6" />
<text x="500.60" y="781.30" font-size="6.4" font-family="Liberation Serif" font-weight="bold" text-anchor="middle" fill="#222" textLength="3.10" lengthAdjust="spacingAndGlyphs">6</text>
<rect x="509.42" y="768.60" width="13.40" height="1.80" fill="#4682B4" stroke="#3a3a3a" stroke-width="0.6" />
<text x="516.12" y="781.30" font-size="6.4" font-family="Liberation Serif" font-weight="bold" text-anchor="middle" fill="#222" textLength="3.10" lengthAdjust="spacingAndGlyphs">7</text>
<rect x="524.94" y="768.60" width="13.40" height="1.80" fill="#4682B4" stroke="#3a3a3a" stroke-width="0.6" />
<text x="531.64" y="781.30" font-size="6.4" font-family="Liberation Serif" font-weight="bold" text-anchor="middle" fill="#222" textLength="3.10" lengthAdjust="spacingAndGlyphs">8</text>
<rect x="540.46" y="769.68" width="13.40" height="0.72" fill="#4682B4" stroke="#3a3a3a" stroke-width="0.6" />
<text x="547.16" y="781.30" font-size="6.4" font-family="Liberation Serif" font-weight="bold" text-anchor="middle" fill="#222" textLength="3.10" lengthAdjust="spacingAndGlyphs">9</text>
<rect x="555.98" y="769.92" width="13.40" height="0.48" fill="#4682B4" stroke="#3a3a3a" stroke-width="0.6" />
<text x="562.68" y="781.30" font-size="6.4" font-family="Liberation Serif" font-weight="bold" text-anchor="middle" fill="#222" textLength="6.20" lengthAdjust="spacingAndGlyphs">10</text>
<rect x="571.50" y="770.16" width="13.40" height="0.24" fill="#4682B4" stroke="#3a3a3a" stroke-width="0.6" />
<text x="578.20" y="781.30" font-size="6.4" font-family="Liberation Serif" font-weight="bold" text-anchor="middle" fill="#222" textLength="6.20" lengthAdjust="spacingAndGlyphs">11</text>
<rect x="587.02" y="769.92" width="13.40" height="0.48" fill="#4682B4" stroke="#3a3a3a" stroke-width="0.6" />
<text x="593.72" y="781.30" font-size="6.4" font-family="Liberation Serif" font-weight="bold" text-anchor="middle" fill="#222" textLength="6.20" lengthAdjust="spacingAndGlyphs">12</text>
<rect x="602.54" y="770.16" width="13.40" height="0.24" fill="#4682B4" stroke="#3a3a3a" stroke-width="0.6" />
<text x="609.24" y="781.30" font-size="6.4" font-family="Liberation Serif" font-weight="bold" text-anchor="middle" fill="#222" textLength="6.20" lengthAdjust="spacingAndGlyphs">13</text>
<rect x="618.06" y="770.28" width="13.40" height="0.12" fill="#4682B4" stroke="#3a3a3a" stroke-width="0.6" />
<text x="624.76" y="781.30" font-size="6.4" font-family="Liberation Serif" font-weight="bold" text-anchor="middle" fill="#222" textLength="6.20" lengthAdjust="spacingAndGlyphs">14</text>
<rect x="633.58" y="770.28" width="13.40" height="0.12" fill="#4682B4" stroke="#3a3a3a" stroke-width="0.6" />
<text x="640.28" y="781.30" font-size="6.4" font-family="Liberation Serif" font-weight="bold" text-anchor="middle" fill="#222" textLength="6.20" lengthAdjust="spacingAndGlyphs">15</text>
<text transform="translate(376.2,720.4) rotate(-90)" font-family="Liberation Serif" font-size="6.9" font-weight="bold" text-anchor="middle" fill="#111" textLength="96.5" lengthAdjust="spacingAndGlyphs">The number of Modified Proteins</text>
<text x="467.50" y="805.10" font-size="6.6" font-family="Liberation Serif" font-weight="bold" fill="#111" textLength="129.00" lengthAdjust="spacingAndGlyphs">The Number of Modified Sites in a protein</text>
<text x="561.60" y="694.00" font-size="6.0" font-family="Liberation Serif" font-weight="bold" fill="#111" textLength="40.40" lengthAdjust="spacingAndGlyphs">43%&gt;=2 sites</text>
<text x="545.60" y="702.10" font-size="6.0" font-family="Liberation Serif" font-weight="bold" fill="#111" textLength="72.40" lengthAdjust="spacingAndGlyphs">XP_010733442.1=9 sites</text>
<rect x="43.40" y="843.40" width="159.00" height="7.20" fill="#d9d9d9" stroke="#666" stroke-width="0.6" />
<rect x="43.40" y="850.60" width="159.00" height="66.10" fill="#fff" stroke="#8c8c8c" stroke-width="0.6" />
<line x1="43.40" y1="916.70" x2="202.40" y2="916.70" stroke="#d4d4d4" stroke-width="1.5" />
<text x="122.90" y="848.50" font-size="4.0" text-anchor="middle" fill="#1a1a1a" textLength="5.20" lengthAdjust="spacingAndGlyphs">BP</text>
<rect x="205.70" y="843.40" width="74.80" height="7.20" fill="#d9d9d9" stroke="#666" stroke-width="0.6" />
<rect x="205.70" y="850.60" width="74.80" height="66.10" fill="#fff" stroke="#8c8c8c" stroke-width="0.6" />
<line x1="205.70" y1="916.70" x2="280.50" y2="916.70" stroke="#d4d4d4" stroke-width="1.5" />
<text x="243.10" y="848.50" font-size="4.0" text-anchor="middle" fill="#1a1a1a" textLength="5.20" lengthAdjust="spacingAndGlyphs">MF</text>
<rect x="283.40" y="843.40" width="14.20" height="7.20" fill="#d9d9d9" stroke="#666" stroke-width="0.6" />
<rect x="283.40" y="850.60" width="14.20" height="66.10" fill="#fff" stroke="#8c8c8c" stroke-width="0.6" />
<line x1="283.40" y1="916.70" x2="297.60" y2="916.70" stroke="#d4d4d4" stroke-width="1.5" />
<text x="290.50" y="848.50" font-size="4.0" text-anchor="middle" fill="#1a1a1a" textLength="5.20" lengthAdjust="spacingAndGlyphs">CC</text>
<line x1="42.00" y1="914.10" x2="43.40" y2="914.10" stroke="#333" stroke-width="0.6" />
<text x="41.30" y="915.55" font-size="4.2" text-anchor="end" fill="#333" textLength="2.75" lengthAdjust="spacingAndGlyphs">0</text>
<line x1="42.00" y1="899.70" x2="43.40" y2="899.70" stroke="#333" stroke-width="0.6" />
<text x="41.30" y="901.15" font-size="4.2" text-anchor="end" fill="#333" textLength="2.75" lengthAdjust="spacingAndGlyphs">5</text>
<line x1="42.00" y1="885.30" x2="43.40" y2="885.30" stroke="#333" stroke-width="0.6" />
<text x="41.30" y="886.75" font-size="4.2" text-anchor="end" fill="#333" textLength="5.50" lengthAdjust="spacingAndGlyphs">10</text>
<line x1="42.00" y1="870.90" x2="43.40" y2="870.90" stroke="#333" stroke-width="0.6" />
<text x="41.30" y="872.35" font-size="4.2" text-anchor="end" fill="#333" textLength="5.50" lengthAdjust="spacingAndGlyphs">15</text>
<line x1="42.00" y1="856.50" x2="43.40" y2="856.50" stroke="#333" stroke-width="0.6" />
<text x="41.30" y="857.95" font-size="4.2" text-anchor="end" fill="#333" textLength="5.50" lengthAdjust="spacingAndGlyphs">20</text>
<text transform="translate(24.2,883.8) rotate(-90)" font-size="8.2" text-anchor="middle" fill="#111" textLength="38.8" lengthAdjust="spacingAndGlyphs">Protein Number</text>
<rect x="47.10" y="882.42" width="7.30" height="31.68" fill="#E8141C" />
<text x="50.75" y="881.82" font-size="3.6" text-anchor="middle" fill="#333" textLength="7.00" lengthAdjust="spacingAndGlyphs">0.36</text>
<line x1="50.75" y1="916.70" x2="50.75" y2="917.90" stroke="#333" stroke-width="0.6" />
<text transform="translate(54.45,919.6) rotate(-70)" font-size="4.15" text-anchor="end" fill="#3a3a3a" stroke="#666" stroke-width="0.05">carbohydrate metabolic process</text>
<rect x="59.16" y="862.26" width="7.30" height="51.84" fill="#E7181D" />
<text x="62.81" y="861.66" font-size="3.6" text-anchor="middle" fill="#333" textLength="7.00" lengthAdjust="spacingAndGlyphs">0.36</text>
<line x1="62.81" y1="916.70" x2="62.81" y2="917.90" stroke="#333" stroke-width="0.6" />
<text transform="translate(66.51,919.6) rotate(-70)" font-size="4.15" text-anchor="end" fill="#3a3a3a" stroke="#666" stroke-width="0.05">oxidation-reduction process</text>
<rect x="71.22" y="899.70" width="7.30" height="14.40" fill="#E6221F" />
<text x="74.87" y="899.10" font-size="3.6" text-anchor="middle" fill="#333" textLength="7.00" lengthAdjust="spacingAndGlyphs">0.62</text>
<line x1="74.87" y1="916.70" x2="74.87" y2="917.90" stroke="#333" stroke-width="0.6" />
<text transform="translate(78.57,919.6) rotate(-70)" font-size="4.15" text-anchor="end" fill="#3a3a3a" stroke="#666" stroke-width="0.05">dicarboxylic acid metabolic process</text>
<rect x="83.28" y="902.58" width="7.30" height="11.52" fill="#E8301E" />
<text x="86.93" y="901.98" font-size="3.6" text-anchor="middle" fill="#333" textLength="7.00" lengthAdjust="spacingAndGlyphs">0.67</text>
<line x1="86.93" y1="916.70" x2="86.93" y2="917.90" stroke="#333" stroke-width="0.6" />
<text transform="translate(90.63,919.6) rotate(-70)" font-size="4.15" text-anchor="end" fill="#3a3a3a" stroke="#666" stroke-width="0.05">monosaccharide metabolic process</text>
<rect x="95.34" y="902.58" width="7.30" height="11.52" fill="#E8301E" />
<text x="98.99" y="901.98" font-size="3.6" text-anchor="middle" fill="#333" textLength="7.00" lengthAdjust="spacingAndGlyphs">0.67</text>
<line x1="98.99" y1="916.70" x2="98.99" y2="917.90" stroke="#333" stroke-width="0.6" />
<text transform="translate(102.69,919.6) rotate(-70)" font-size="4.15" text-anchor="end" fill="#3a3a3a" stroke="#666" stroke-width="0.05">hexose metabolic process</text>
<rect x="107.40" y="902.58" width="7.30" height="11.52" fill="#E8301E" />
<text x="111.05" y="901.98" font-size="3.6" text-anchor="middle" fill="#333" textLength="7.00" lengthAdjust="spacingAndGlyphs">0.67</text>
<line x1="111.05" y1="916.70" x2="111.05" y2="917.90" stroke="#333" stroke-width="0.6" />
<text transform="translate(114.75,919.6) rotate(-70)" font-size="4.15" text-anchor="end" fill="#3a3a3a" stroke="#666" stroke-width="0.05">glucose metabolic process</text>
<rect x="119.46" y="859.38" width="7.30" height="54.72" fill="#E84C1C" />
<text x="123.11" y="858.78" font-size="3.6" text-anchor="middle" fill="#333" textLength="7.00" lengthAdjust="spacingAndGlyphs">0.22</text>
<line x1="123.11" y1="916.70" x2="123.11" y2="917.90" stroke="#333" stroke-width="0.6" />
<text transform="translate(126.81,919.6) rotate(-70)" font-size="4.15" text-anchor="end" fill="#3a3a3a" stroke="#666" stroke-width="0.05">small molecule metabolic process</text>
<rect x="131.52" y="873.78" width="7.30" height="40.32" fill="#E84C1C" />
<text x="135.17" y="873.18" font-size="3.6" text-anchor="middle" fill="#333" textLength="7.00" lengthAdjust="spacingAndGlyphs">0.25</text>
<line x1="135.17" y1="916.70" x2="135.17" y2="917.90" stroke="#333" stroke-width="0.6" />
<text transform="translate(138.87,919.6) rotate(-70)" font-size="4.15" text-anchor="end" fill="#3a3a3a" stroke="#666" stroke-width="0.05">oxoacid metabolic process</text>
<rect x="143.58" y="873.78" width="7.30" height="40.32" fill="#E84C1C" />
<text x="147.23" y="873.18" font-size="3.6" text-anchor="middle" fill="#333" textLength="7.00" lengthAdjust="spacingAndGlyphs">0.25</text>
<line x1="147.23" y1="916.70" x2="147.23" y2="917.90" stroke="#333" stroke-width="0.6" />
<text transform="translate(150.93,919.6) rotate(-70)" font-size="4.15" text-anchor="end" fill="#3a3a3a" stroke="#666" stroke-width="0.05">carboxylic acid metabolic process</text>
<rect x="155.64" y="891.06" width="7.30" height="23.04" fill="#E84C1C" />
<text x="159.29" y="890.46" font-size="3.6" text-anchor="middle" fill="#333" textLength="7.00" lengthAdjust="spacingAndGlyphs">0.39</text>
<line x1="159.29" y1="916.70" x2="159.29" y2="917.90" stroke="#333" stroke-width="0.6" />
<text transform="translate(162.99,919.6) rotate(-70)" font-size="4.15" text-anchor="end" fill="#3a3a3a" stroke="#666" stroke-width="0.05">small molecule biosynthetic process</text>
<rect x="167.70" y="902.58" width="7.30" height="11.52" fill="#E84C1C" />
<text x="171.35" y="901.98" font-size="3.6" text-anchor="middle" fill="#333" textLength="7.00" lengthAdjust="spacingAndGlyphs">0.67</text>
<line x1="171.35" y1="916.70" x2="171.35" y2="917.90" stroke="#333" stroke-width="0.6" />
<text transform="translate(175.05,919.6) rotate(-70)" font-size="4.15" text-anchor="end" fill="#3a3a3a" stroke="#666" stroke-width="0.05">carbohydrate biosynthetic process</text>
<rect x="179.76" y="873.78" width="7.30" height="40.32" fill="#E84C1C" />
<text x="183.41" y="873.18" font-size="3.6" text-anchor="middle" fill="#333" textLength="7.00" lengthAdjust="spacingAndGlyphs">0.25</text>
<line x1="183.41" y1="916.70" x2="183.41" y2="917.90" stroke="#333" stroke-width="0.6" />
<text transform="translate(187.11,919.6) rotate(-70)" font-size="4.15" text-anchor="end" fill="#3a3a3a" stroke="#666" stroke-width="0.05">organic acid metabolic process</text>
<rect x="191.82" y="905.46" width="7.30" height="8.64" fill="#E84C1C" />
<text x="195.47" y="904.86" font-size="3.6" text-anchor="middle" fill="#333" textLength="7.00" lengthAdjust="spacingAndGlyphs">0.79</text>
<line x1="195.47" y1="916.70" x2="195.47" y2="917.90" stroke="#333" stroke-width="0.6" />
<text transform="translate(199.17,919.6) rotate(-70)" font-size="4.15" text-anchor="end" fill="#3a3a3a" stroke="#666" stroke-width="0.05">cellular catabolic process</text>
<rect x="209.00" y="865.14" width="7.30" height="48.96" fill="#E6201C" />
<text x="212.65" y="864.54" font-size="3.6" text-anchor="middle" fill="#333" textLength="7.00" lengthAdjust="spacingAndGlyphs">0.05</text>
<line x1="212.65" y1="916.70" x2="212.65" y2="917.90" stroke="#333" stroke-width="0.6" />
<text transform="translate(216.35,919.6) rotate(-70)" font-size="4.15" text-anchor="end" fill="#3a3a3a" stroke="#666" stroke-width="0.05">oxidoreductase activity</text>
<rect x="221.08" y="899.70" width="7.30" height="14.40" fill="#E8441C" />
<text x="224.73" y="899.10" font-size="3.6" text-anchor="middle" fill="#333" textLength="5.25" lengthAdjust="spacingAndGlyphs">0.5</text>
<line x1="224.73" y1="916.70" x2="224.73" y2="917.90" stroke="#333" stroke-width="0.6" />
<text transform="translate(228.43,919.6) rotate(-70)" font-size="4.15" text-anchor="end" fill="#3a3a3a" stroke="#666" stroke-width="0.05">oxidoreductase activity, acting on the aldehyde or oxo...</text>
<rect x="233.16" y="899.70" width="7.30" height="14.40" fill="#E8441C" />
<text x="236.81" y="899.10" font-size="3.6" text-anchor="middle" fill="#333" textLength="7.00" lengthAdjust="spacingAndGlyphs">0.48</text>
<line x1="236.81" y1="916.70" x2="236.81" y2="917.90" stroke="#333" stroke-width="0.6" />
<text transform="translate(240.51,919.6) rotate(-70)" font-size="4.15" text-anchor="end" fill="#3a3a3a" stroke="#666" stroke-width="0.05">oxidoreductase activity, acting on the aldehyde...</text>
<rect x="245.24" y="905.46" width="7.30" height="8.64" fill="#E8441C" />
<text x="248.89" y="904.86" font-size="3.6" text-anchor="middle" fill="#333" textLength="7.00" lengthAdjust="spacingAndGlyphs">0.79</text>
<line x1="248.89" y1="916.70" x2="248.89" y2="917.90" stroke="#333" stroke-width="0.6" />
<text transform="translate(252.59,919.6) rotate(-70)" font-size="4.15" text-anchor="end" fill="#3a3a3a" stroke="#666" stroke-width="0.05">oxidoreductase activity, acting on the CH-NH group of donors</text>
<rect x="257.32" y="905.46" width="7.30" height="8.64" fill="#E8441C" />
<text x="260.97" y="904.86" font-size="3.6" text-anchor="middle" fill="#333" textLength="7.00" lengthAdjust="spacingAndGlyphs">0.79</text>
<line x1="260.97" y1="916.70" x2="260.97" y2="917.90" stroke="#333" stroke-width="0.6" />
<text transform="translate(264.67,919.6) rotate(-70)" font-size="4.15" text-anchor="end" fill="#3a3a3a" stroke="#666" stroke-width="0.05">oxidoreductase activity, acting on peroxide as acceptor</text>
<rect x="269.40" y="905.46" width="7.30" height="8.64" fill="#E8441C" />
<text x="273.05" y="904.86" font-size="3.6" text-anchor="middle" fill="#333" textLength="7.00" lengthAdjust="spacingAndGlyphs">0.79</text>
<line x1="273.05" y1="916.70" x2="273.05" y2="917.90" stroke="#333" stroke-width="0.6" />
<text transform="translate(276.75,919.6) rotate(-70)" font-size="4.15" text-anchor="end" fill="#3a3a3a" stroke="#666" stroke-width="0.05">oxidoreductase activity, acting on the CH-NH group...</text>
<rect x="286.90" y="908.34" width="7.30" height="5.76" fill="#E6BE2A" />
<text x="290.55" y="907.74" font-size="3.6" text-anchor="middle" fill="#333" textLength="7.00" lengthAdjust="spacingAndGlyphs">0.47</text>
<line x1="290.55" y1="916.70" x2="290.55" y2="917.90" stroke="#333" stroke-width="0.6" />
<text transform="translate(294.25,919.6) rotate(-70)" font-size="4.15" text-anchor="end" fill="#3a3a3a" stroke="#666" stroke-width="0.05">phosphopyruvate hydratase complex</text>
<defs><linearGradient id="pg" x1="0" y1="1" x2="0" y2="0"><stop offset="0" stop-color="#E50012"/><stop offset="0.45" stop-color="#EE6A16"/><stop offset="1" stop-color="#E3BB26"/></linearGradient></defs>
<text x="311.80" y="870.20" font-size="4.6" fill="#1a1a1a" textLength="18.40" lengthAdjust="spacingAndGlyphs">p.value</text>
<rect x="311.60" y="873.10" width="7.50" height="27.90" fill="url(#pg)" />
<line x1="311.60" y1="875.90" x2="312.80" y2="875.90" stroke="#fff" stroke-width="0.4" />
<line x1="317.90" y1="875.90" x2="319.10" y2="875.90" stroke="#fff" stroke-width="0.4" />
<text x="322.00" y="877.30" font-size="3.9" fill="#333" textLength="8.20" lengthAdjust="spacingAndGlyphs">0.04</text>
<line x1="311.60" y1="882.20" x2="312.80" y2="882.20" stroke="#fff" stroke-width="0.4" />
<line x1="317.90" y1="882.20" x2="319.10" y2="882.20" stroke="#fff" stroke-width="0.4" />
<text x="322.00" y="883.60" font-size="3.9" fill="#333" textLength="8.20" lengthAdjust="spacingAndGlyphs">0.03</text>
<line x1="311.60" y1="888.40" x2="312.80" y2="888.40" stroke="#fff" stroke-width="0.4" />
<line x1="317.90" y1="888.40" x2="319.10" y2="888.40" stroke="#fff" stroke-width="0.4" />
<text x="322.00" y="889.80" font-size="3.9" fill="#333" textLength="8.20" lengthAdjust="spacingAndGlyphs">0.02</text>
<line x1="311.60" y1="894.60" x2="312.80" y2="894.60" stroke="#fff" stroke-width="0.4" />
<line x1="317.90" y1="894.60" x2="319.10" y2="894.60" stroke="#fff" stroke-width="0.4" />
<text x="322.00" y="896.00" font-size="3.9" fill="#333" textLength="8.20" lengthAdjust="spacingAndGlyphs">0.01</text>
<text x="122.30" y="1035.00" font-size="6.6" fill="#111" textLength="96.50" lengthAdjust="spacingAndGlyphs">Enriched GO Terms (Top 20)</text>
<rect x="395.30" y="838.30" width="276.40" height="106.00" fill="#fff" />
<line x1="395.30" y1="927.20" x2="671.70" y2="927.20" stroke="#f2f2f2" stroke-width="0.4" />
<line x1="395.30" y1="903.00" x2="671.70" y2="903.00" stroke="#f2f2f2" stroke-width="0.4" />
<line x1="395.30" y1="878.80" x2="671.70" y2="878.80" stroke="#f2f2f2" stroke-width="0.4" />
<line x1="395.30" y1="854.60" x2="671.70" y2="854.60" stroke="#f2f2f2" stroke-width="0.4" />
<line x1="395.30" y1="939.30" x2="671.70" y2="939.30" stroke="#ebebeb" stroke-width="0.6" />
<line x1="395.30" y1="915.10" x2="671.70" y2="915.10" stroke="#ebebeb" stroke-width="0.6" />
<line x1="395.30" y1="890.90" x2="671.70" y2="890.90" stroke="#ebebeb" stroke-width="0.6" />
<line x1="395.30" y1="866.70" x2="671.70" y2="866.70" stroke="#ebebeb" stroke-width="0.6" />
<line x1="395.30" y1="842.50" x2="671.70" y2="842.50" stroke="#ebebeb" stroke-width="0.6" />
<line x1="403.05" y1="838.30" x2="403.05" y2="944.30" stroke="#ebebeb" stroke-width="0.6" />
<line x1="416.73" y1="838.30" x2="416.73" y2="944.30" stroke="#ebebeb" stroke-width="0.6" />
<line x1="430.41" y1="838.30" x2="430.41" y2="944.30" stroke="#ebebeb" stroke-width="0.6" />
<line x1="444.09" y1="838.30" x2="444.09" y2="944.30" stroke="#ebebeb" stroke-width="0.6" />
<line x1="457.77" y1="838.30" x2="457.77" y2="944.30" stroke="#ebebeb" stroke-width="0.6" />
<line x1="471.45" y1="838.30" x2="471.45" y2="944.30" stroke="#ebebeb" stroke-width="0.6" />
<line x1="485.13" y1="838.30" x2="485.13" y2="944.30" stroke="#ebebeb" stroke-width="0.6" />
<line x1="498.81" y1="838.30" x2="498.81" y2="944.30" stroke="#ebebeb" stroke-width="0.6" />
<line x1="512.49" y1="838.30" x2="512.49" y2="944.30" stroke="#ebebeb" stroke-width="0.6" />
<line x1="526.17" y1="838.30" x2="526.17" y2="944.30" stroke="#ebebeb" stroke-width="0.6" />
<line x1="539.85" y1="838.30" x2="539.85" y2="944.30" stroke="#ebebeb" stroke-width="0.6" />
<line x1="553.53" y1="838.30" x2="553.53" y2="944.30" stroke="#ebebeb" stroke-width="0.6" />
<line x1="567.21" y1="838.30" x2="567.21" y2="944.30" stroke="#ebebeb" stroke-width="0.6" />
<line x1="580.89" y1="838.30" x2="580.89" y2="944.30" stroke="#ebebeb" stroke-width="0.6" />
<line x1="594.57" y1="838.30" x2="594.57" y2="944.30" stroke="#ebebeb" stroke-width="0.6" />
<line x1="608.25" y1="838.30" x2="608.25" y2="944.30" stroke="#ebebeb" stroke-width="0.6" />
<line x1="621.93" y1="838.30" x2="621.93" y2="944.30" stroke="#ebebeb" stroke-width="0.6" />
<line x1="635.61" y1="838.30" x2="635.61" y2="944.30" stroke="#ebebeb" stroke-width="0.6" />
<line x1="649.29" y1="838.30" x2="649.29" y2="944.30" stroke="#ebebeb" stroke-width="0.6" />
<line x1="662.97" y1="838.30" x2="662.97" y2="944.30" stroke="#ebebeb" stroke-width="0.6" />
<rect x="399.75" y="852.18" width="6.60" height="87.12" fill="#4682B4" />
<text x="403.05" y="850.68" font-size="4.6" text-anchor="middle" fill="#222">9</text>
<line x1="403.05" y1="944.30" x2="403.05" y2="945.60" stroke="#333" stroke-width="0.6" />
<text transform="translate(406.05,948.0) rotate(-70)" font-size="3.8" text-anchor="end" fill="#222" stroke="#444" stroke-width="0.15">Pyruvate metabolism</text>
<rect x="413.43" y="852.18" width="6.60" height="87.12" fill="#4682B4" />
<text x="416.73" y="850.68" font-size="4.6" text-anchor="middle" fill="#222">9</text>
<line x1="416.73" y1="944.30" x2="416.73" y2="945.60" stroke="#333" stroke-width="0.6" />
<text transform="translate(419.73,948.0) rotate(-70)" font-size="3.8" text-anchor="end" fill="#222" stroke="#444" stroke-width="0.15">Glyoxylate and dicarboxylate metabolism</text>
<rect x="427.11" y="861.86" width="6.60" height="77.44" fill="#4682B4" />
<text x="430.41" y="860.36" font-size="4.6" text-anchor="middle" fill="#222">8</text>
<line x1="430.41" y1="944.30" x2="430.41" y2="945.60" stroke="#333" stroke-width="0.6" />
<text transform="translate(433.41,948.0) rotate(-70)" font-size="3.8" text-anchor="end" fill="#222" stroke="#444" stroke-width="0.15">Glycolysis / Gluconeogenesis</text>
<rect x="440.79" y="871.54" width="6.60" height="67.76" fill="#4682B4" />
<text x="444.09" y="870.04" font-size="4.6" text-anchor="middle" fill="#222">7</text>
<line x1="444.09" y1="944.30" x2="444.09" y2="945.60" stroke="#333" stroke-width="0.6" />
<text transform="translate(447.09,948.0) rotate(-70)" font-size="3.8" text-anchor="end" fill="#222" stroke="#444" stroke-width="0.15">Valine, leucine and isoleucine degradation</text>
<rect x="454.47" y="881.22" width="6.60" height="58.08" fill="#4682B4" />
<text x="457.77" y="879.72" font-size="4.6" text-anchor="middle" fill="#222">6</text>
<line x1="457.77" y1="944.30" x2="457.77" y2="945.60" stroke="#333" stroke-width="0.6" />
<text transform="translate(460.77,948.0) rotate(-70)" font-size="3.8" text-anchor="end" fill="#222" stroke="#444" stroke-width="0.15">Citrate cycle (TCA cycle)</text>
<rect x="468.15" y="890.90" width="6.60" height="48.40" fill="#4682B4" />
<text x="471.45" y="889.40" font-size="4.6" text-anchor="middle" fill="#222">5</text>
<line x1="471.45" y1="944.30" x2="471.45" y2="945.60" stroke="#333" stroke-width="0.6" />
<text transform="translate(474.45,948.0) rotate(-70)" font-size="3.8" text-anchor="end" fill="#222" stroke="#444" stroke-width="0.15">Insulin signaling pathway</text>
<rect x="481.83" y="890.90" width="6.60" height="48.40" fill="#4682B4" />
<text x="485.13" y="889.40" font-size="4.6" text-anchor="middle" fill="#222">5</text>
<line x1="485.13" y1="944.30" x2="485.13" y2="945.60" stroke="#333" stroke-width="0.6" />
<text transform="translate(488.13,948.0) rotate(-70)" font-size="3.8" text-anchor="end" fill="#222" stroke="#444" stroke-width="0.15">Glycine, serine and threonine metabolism</text>
<rect x="495.51" y="890.90" width="6.60" height="48.40" fill="#4682B4" />
<text x="498.81" y="889.40" font-size="4.6" text-anchor="middle" fill="#222">5</text>
<line x1="498.81" y1="944.30" x2="498.81" y2="945.60" stroke="#333" stroke-width="0.6" />
<text transform="translate(501.81,948.0) rotate(-70)" font-size="3.8" text-anchor="end" fill="#222" stroke="#444" stroke-width="0.15">Fatty acid degradation</text>
<rect x="509.19" y="890.90" width="6.60" height="48.40" fill="#4682B4" />
<text x="512.49" y="889.40" font-size="4.6" text-anchor="middle" fill="#222">5</text>
<line x1="512.49" y1="944.30" x2="512.49" y2="945.60" stroke="#333" stroke-width="0.6" />
<text transform="translate(515.49,948.0) rotate(-70)" font-size="3.8" text-anchor="end" fill="#222" stroke="#444" stroke-width="0.15">Propanoate metabolism</text>
<rect x="522.87" y="900.58" width="6.60" height="38.72" fill="#4682B4" />
<text x="526.17" y="899.08" font-size="4.6" text-anchor="middle" fill="#222">4</text>
<line x1="526.17" y1="944.30" x2="526.17" y2="945.60" stroke="#333" stroke-width="0.6" />
<text transform="translate(529.17,948.0) rotate(-70)" font-size="3.8" text-anchor="end" fill="#222" stroke="#444" stroke-width="0.15">Huntington disease</text>
<rect x="536.55" y="900.58" width="6.60" height="38.72" fill="#4682B4" />
<text x="539.85" y="899.08" font-size="4.6" text-anchor="middle" fill="#222">4</text>
<line x1="539.85" y1="944.30" x2="539.85" y2="945.60" stroke="#333" stroke-width="0.6" />
<text transform="translate(542.85,948.0) rotate(-70)" font-size="3.8" text-anchor="end" fill="#222" stroke="#444" stroke-width="0.15">Tryptophan metabolism</text>
<rect x="550.23" y="900.58" width="6.60" height="38.72" fill="#4682B4" />
<text x="553.53" y="899.08" font-size="4.6" text-anchor="middle" fill="#222">4</text>
<line x1="553.53" y1="944.30" x2="553.53" y2="945.60" stroke="#333" stroke-width="0.6" />
<text transform="translate(556.53,948.0) rotate(-70)" font-size="3.8" text-anchor="end" fill="#222" stroke="#444" stroke-width="0.15">Carbon fixation pathways in prokaryotes</text>
<rect x="563.91" y="900.58" width="6.60" height="38.72" fill="#4682B4" />
<text x="567.21" y="899.08" font-size="4.6" text-anchor="middle" fill="#222">4</text>
<line x1="567.21" y1="944.30" x2="567.21" y2="945.60" stroke="#333" stroke-width="0.6" />
<text transform="translate(570.21,948.0) rotate(-70)" font-size="3.8" text-anchor="end" fill="#222" stroke="#444" stroke-width="0.15">AMPK signaling pathway</text>
<rect x="577.59" y="900.58" width="6.60" height="38.72" fill="#4682B4" />
<text x="580.89" y="899.08" font-size="4.6" text-anchor="middle" fill="#222">4</text>
<line x1="580.89" y1="944.30" x2="580.89" y2="945.60" stroke="#333" stroke-width="0.6" />
<text transform="translate(583.89,948.0) rotate(-70)" font-size="3.8" text-anchor="end" fill="#222" stroke="#444" stroke-width="0.15">Lysine degradation</text>
<rect x="591.27" y="900.58" width="6.60" height="38.72" fill="#4682B4" />
<text x="594.57" y="899.08" font-size="4.6" text-anchor="middle" fill="#222">4</text>
<line x1="594.57" y1="944.30" x2="594.57" y2="945.60" stroke="#333" stroke-width="0.6" />
<text transform="translate(597.57,948.0) rotate(-70)" font-size="3.8" text-anchor="end" fill="#222" stroke="#444" stroke-width="0.15">Carbon fixation in photosynthetic organisms</text>
<rect x="604.95" y="900.58" width="6.60" height="38.72" fill="#4682B4" />
<text x="608.25" y="899.08" font-size="4.6" text-anchor="middle" fill="#222">4</text>
<line x1="608.25" y1="944.30" x2="608.25" y2="945.60" stroke="#333" stroke-width="0.6" />
<text transform="translate(611.25,948.0) rotate(-70)" font-size="3.8" text-anchor="end" fill="#222" stroke="#444" stroke-width="0.15">Methane metabolism</text>
<rect x="618.63" y="900.58" width="6.60" height="38.72" fill="#4682B4" />
<text x="621.93" y="899.08" font-size="4.6" text-anchor="middle" fill="#222">4</text>
<line x1="621.93" y1="944.30" x2="621.93" y2="945.60" stroke="#333" stroke-width="0.6" />
<text transform="translate(624.93,948.0) rotate(-70)" font-size="3.8" text-anchor="end" fill="#222" stroke="#444" stroke-width="0.15">Parkinson disease</text>
<rect x="632.31" y="910.26" width="6.60" height="29.04" fill="#4682B4" />
<text x="635.61" y="908.76" font-size="4.6" text-anchor="middle" fill="#222">3</text>
<line x1="635.61" y1="944.30" x2="635.61" y2="945.60" stroke="#333" stroke-width="0.6" />
<text transform="translate(638.61,948.0) rotate(-70)" font-size="3.8" text-anchor="end" fill="#222" stroke="#444" stroke-width="0.15">Alzheimer disease</text>
<rect x="645.99" y="910.26" width="6.60" height="29.04" fill="#4682B4" />
<text x="649.29" y="908.76" font-size="4.6" text-anchor="middle" fill="#222">3</text>
<line x1="649.29" y1="944.30" x2="649.29" y2="945.60" stroke="#333" stroke-width="0.6" />
<text transform="translate(652.29,948.0) rotate(-70)" font-size="3.8" text-anchor="end" fill="#222" stroke="#444" stroke-width="0.15">Non-alcoholic fatty liver disease (NAFLD)</text>
<rect x="659.67" y="910.26" width="6.60" height="29.04" fill="#4682B4" />
<text x="662.97" y="908.76" font-size="4.6" text-anchor="middle" fill="#222">3</text>
<line x1="662.97" y1="944.30" x2="662.97" y2="945.60" stroke="#333" stroke-width="0.6" />
<text transform="translate(665.97,948.0) rotate(-70)" font-size="3.8" text-anchor="end" fill="#222" stroke="#444" stroke-width="0.15">Ribosome</text>
<rect x="395.30" y="838.30" width="276.40" height="106.00" fill="none" stroke="#b3b3b3" stroke-width="0.7" />
<line x1="393.80" y1="939.30" x2="395.30" y2="939.30" stroke="#333" stroke-width="0.6" />
<text x="392.70" y="940.85" font-size="4.3" text-anchor="end" fill="#333" textLength="5.50" lengthAdjust="spacingAndGlyphs">0.0</text>
<line x1="393.80" y1="915.10" x2="395.30" y2="915.10" stroke="#333" stroke-width="0.6" />
<text x="392.70" y="916.65" font-size="4.3" text-anchor="end" fill="#333" textLength="5.50" lengthAdjust="spacingAndGlyphs">2.5</text>
<line x1="393.80" y1="890.90" x2="395.30" y2="890.90" stroke="#333" stroke-width="0.6" />
<text x="392.70" y="892.45" font-size="4.3" text-anchor="end" fill="#333" textLength="5.50" lengthAdjust="spacingAndGlyphs">5.0</text>
<line x1="393.80" y1="866.70" x2="395.30" y2="866.70" stroke="#333" stroke-width="0.6" />
<text x="392.70" y="868.25" font-size="4.3" text-anchor="end" fill="#333" textLength="5.50" lengthAdjust="spacingAndGlyphs">7.5</text>
<line x1="393.80" y1="842.50" x2="395.30" y2="842.50" stroke="#333" stroke-width="0.6" />
<text x="392.70" y="844.05" font-size="4.3" text-anchor="end" fill="#333" textLength="7.90" lengthAdjust="spacingAndGlyphs">10.0</text>
<text transform="translate(374.2,891.3) rotate(-90)" font-size="6.7" font-weight="bold" text-anchor="middle" fill="#111" textLength="40.5" lengthAdjust="spacingAndGlyphs">Protein Number</text>
<text x="498.80" y="1034.60" font-size="5.2" font-weight="bold" fill="#111" textLength="68.40" lengthAdjust="spacingAndGlyphs">KEGG Pathways (Top 20)</text>
</svg></body></html>
